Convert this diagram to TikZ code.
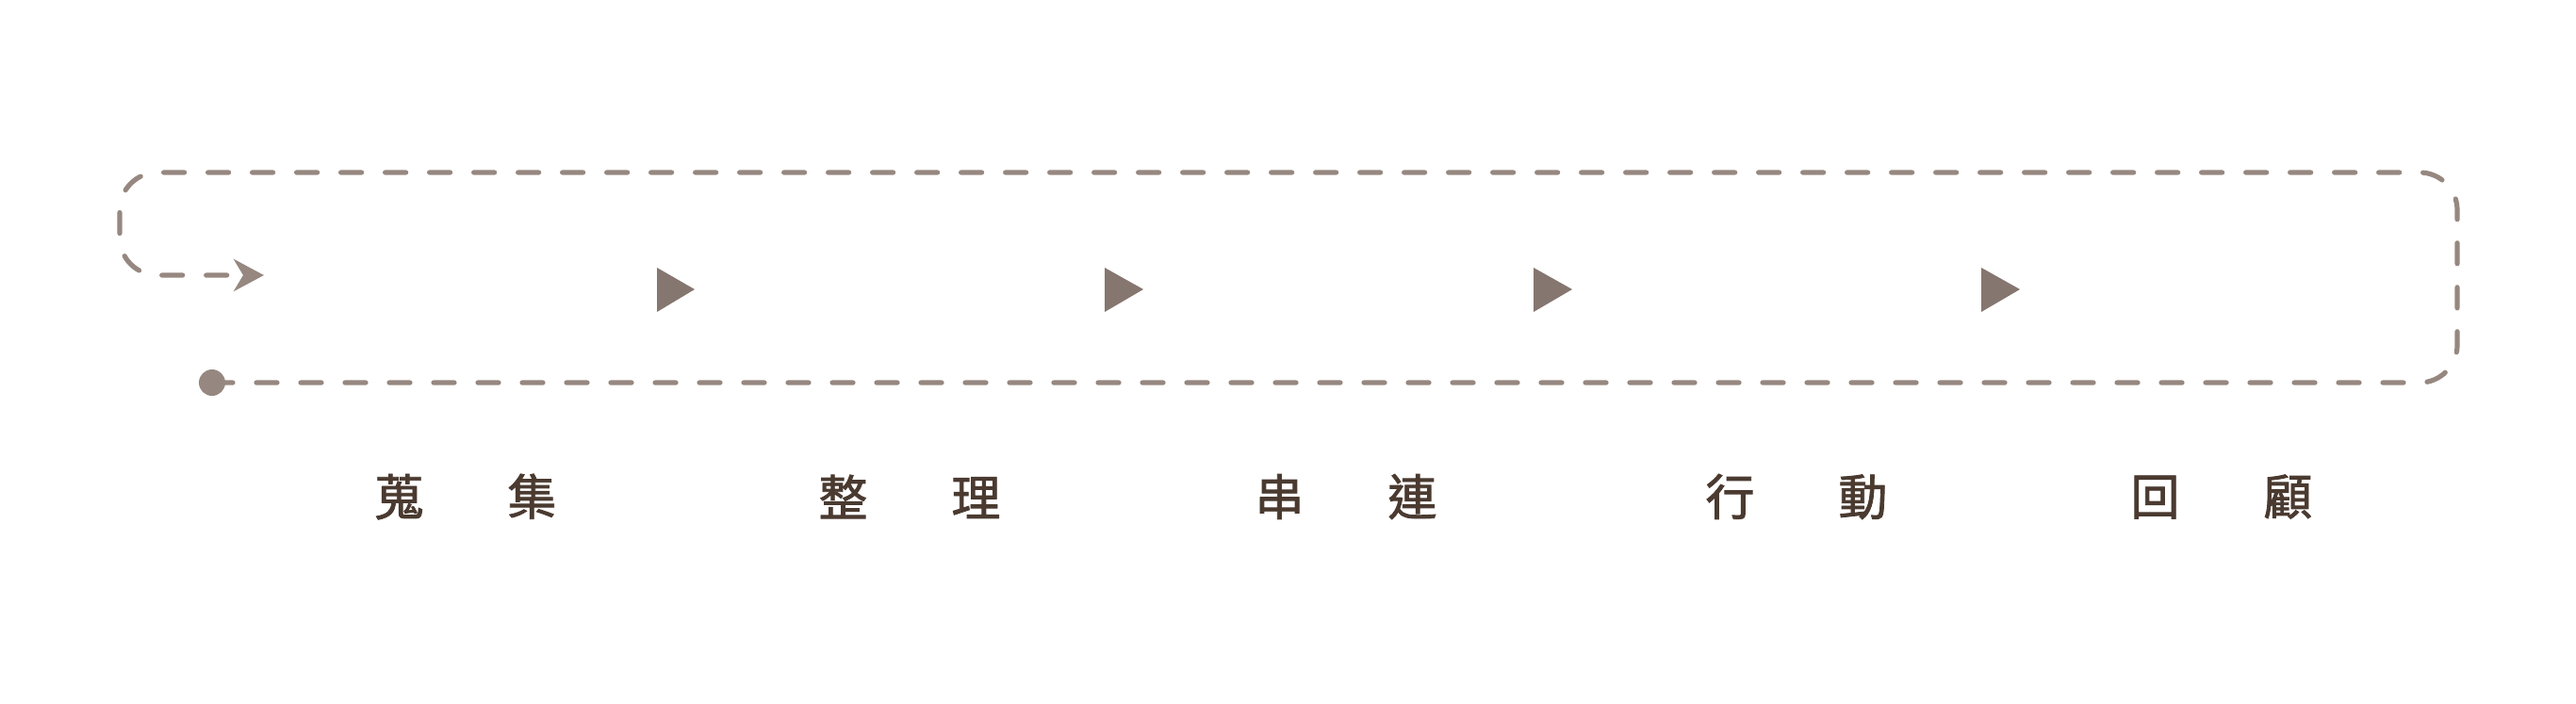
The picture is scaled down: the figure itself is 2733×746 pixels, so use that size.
\documentclass[tikz,border=0pt]{standalone}
\usepackage{fontspec}
\newfontfamily\cjk[FakeBold=1.6]{Noto Sans CJK TC}
\usetikzlibrary{arrows.meta}
\definecolor{loopc}{HTML}{968880}
\definecolor{tric}{HTML}{857670}
\definecolor{txtc}{HTML}{4A3A30}
\tikzset{
  looppath/.style={draw=loopc, line width=2.6pt, line cap=round,
    dash pattern=on 11pt off 12.5pt, rounded corners=20pt},
  stagetri/.style={fill=tric},
  stagelabel/.style={font=\cjk\fontsize{26pt}{30pt}\selectfont, text=txtc, inner sep=0pt},
  startdot/.style={circle, fill=loopc, minimum size=14pt, inner sep=0pt}
}
\begin{document}
\begin{tikzpicture}[x=0.5pt,y=-0.5pt]
\useasboundingbox (0,0) rectangle (2733,746);
% loop
\node[startdot] (dot) at (225,406) {};
\coordinate (br) at (2607,406);
\coordinate (tr) at (2607,183);
\coordinate (tl) at (127,183);
\coordinate (bl) at (127,292);
\coordinate (tip) at (280,292);
\draw[looppath, -{Stealth[length=16pt,width=17pt,inset=5pt]}]
  (dot.center) -- (br) -- (tr) -- (tl) -- (bl) -- (tip);
% triangles
\foreach \xl/\xt in {697/737, 1172/1213, 1627/1668, 2102/2143}{
  \fill[stagetri] (\xl,284) -- (\xt,307) -- (\xl,331) -- cycle;
}
% labels
\newcommand{\gapsp}{\hspace{44.5pt}}
\node[stagelabel] (l1) at (494,527) {蒐\gapsp 集};
\node[stagelabel] (l2) at (965,527) {整\gapsp 理};
\node[stagelabel] (l3) at (1428,527) {串\gapsp 連};
\node[stagelabel] (l4) at (1906,527) {行\gapsp 動};
\node[stagelabel] (l5) at (2357,527) {回\gapsp 顧};
\end{tikzpicture}
\end{document}
